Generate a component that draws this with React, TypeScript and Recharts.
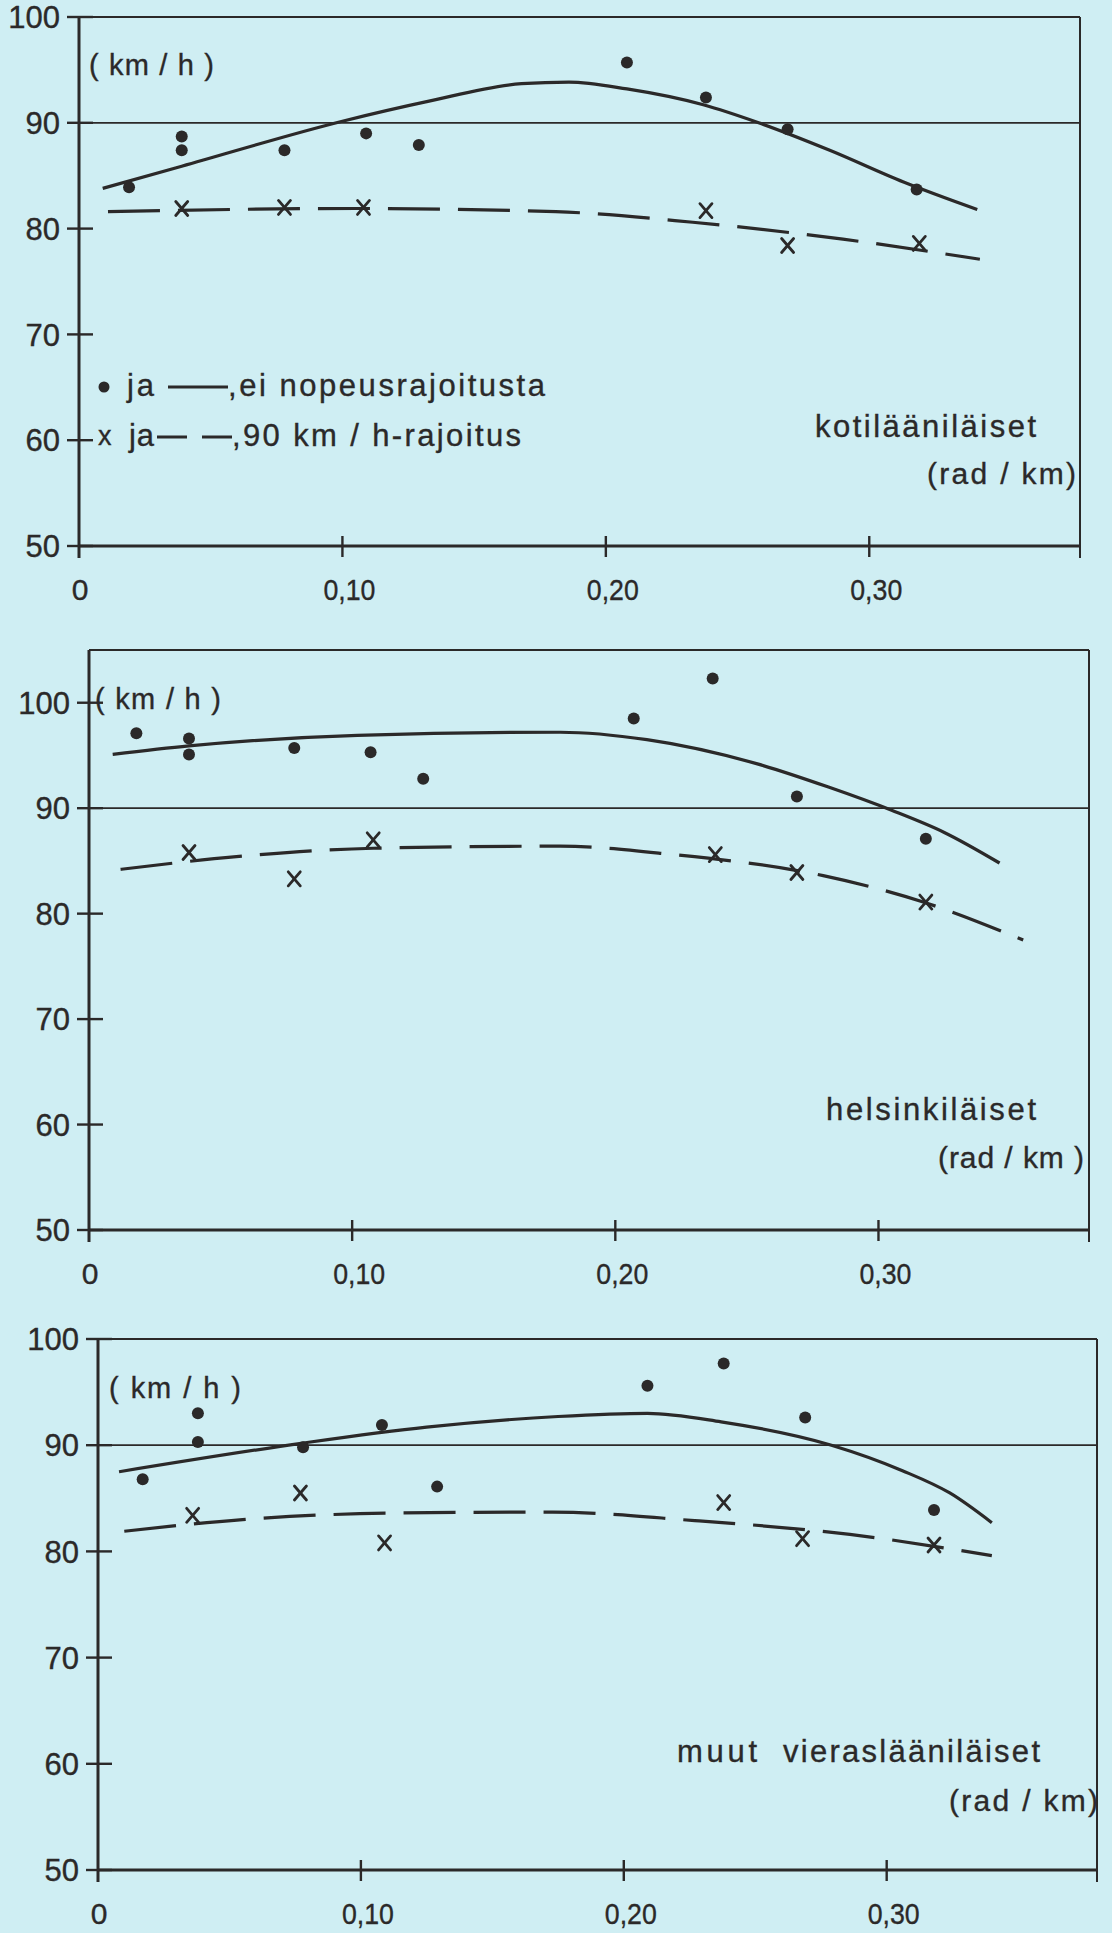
import React from 'react';
import { ComposedChart, Line, Scatter, XAxis, YAxis, ReferenceLine } from 'recharts';

const FONT = '"Liberation Sans", Arial, sans-serif';
const INK = '#2b2929';
const PAPER = '#cfeef3';

// shared axes (curvature rad/km, speed km/h)
const xTicks = [0, 0.1, 0.2, 0.3];
const xTickLabels = ['0', '0,10', '0,20', '0,30'];
const yTicks = [50, 60, 70, 80, 90, 100];
const xMax = 0.38;
const speedLimit = 90;

// kotilääniläiset
const kotiDots = [
  { x: 0.019, y: 83.9 }, { x: 0.039, y: 88.7 }, { x: 0.039, y: 87.4 }, { x: 0.078, y: 87.4 },
  { x: 0.109, y: 89.0 }, { x: 0.129, y: 87.9 }, { x: 0.208, y: 95.7 }, { x: 0.238, y: 92.4 },
  { x: 0.269, y: 89.4 }, { x: 0.318, y: 83.7 },
];
const kotiCrosses = [
  { x: 0.039, y: 81.9 }, { x: 0.078, y: 82.0 }, { x: 0.108, y: 82.0 },
  { x: 0.238, y: 81.7 }, { x: 0.269, y: 78.4 }, { x: 0.319, y: 78.6 },
];
const kotiFree = [
  { x: 0.009, y: 83.8 }, { x: 0.039, y: 85.9 }, { x: 0.1, y: 90.15 }, { x: 0.132, y: 92.0 },
  { x: 0.168, y: 93.7 }, { x: 0.186, y: 93.85 }, { x: 0.208, y: 93.2 }, { x: 0.237, y: 91.7 },
  { x: 0.258, y: 90.0 }, { x: 0.285, y: 87.4 }, { x: 0.313, y: 84.4 }, { x: 0.341, y: 81.8 },
];
const kotiLimited = [
  { x: 0.011, y: 81.6 }, { x: 0.105, y: 81.9 }, { x: 0.181, y: 81.6 },
  { x: 0.233, y: 80.6 }, { x: 0.29, y: 79.0 }, { x: 0.342, y: 77.1 },
];

// helsinkiläiset
const helDots = [
  { x: 0.018, y: 97.1 }, { x: 0.038, y: 96.6 }, { x: 0.038, y: 95.1 }, { x: 0.078, y: 95.7 },
  { x: 0.107, y: 95.3 }, { x: 0.127, y: 92.8 }, { x: 0.207, y: 98.5 }, { x: 0.237, y: 102.3 },
  { x: 0.269, y: 91.1 }, { x: 0.318, y: 87.1 },
];
const helCrosses = [
  { x: 0.038, y: 85.8 }, { x: 0.078, y: 83.3 }, { x: 0.108, y: 87.0 },
  { x: 0.238, y: 85.6 }, { x: 0.269, y: 83.9 }, { x: 0.318, y: 81.1 },
];
const helFree = [
  { x: 0.009, y: 95.1 }, { x: 0.038, y: 95.9 }, { x: 0.102, y: 96.9 }, { x: 0.179, y: 97.2 },
  { x: 0.212, y: 96.5 }, { x: 0.254, y: 94.2 }, { x: 0.281, y: 92.0 }, { x: 0.305, y: 89.8 },
  { x: 0.325, y: 87.7 }, { x: 0.346, y: 84.8 },
];
const helLimited = [
  { x: 0.012, y: 84.2 }, { x: 0.056, y: 85.4 }, { x: 0.108, y: 86.2 }, { x: 0.179, y: 86.4 },
  { x: 0.222, y: 85.6 }, { x: 0.279, y: 83.6 }, { x: 0.317, y: 81.1 }, { x: 0.355, y: 77.5 },
];

// muut vieraslääniläiset
const muutDots = [
  { x: 0.017, y: 86.8 }, { x: 0.038, y: 93.0 }, { x: 0.038, y: 90.3 }, { x: 0.078, y: 89.8 },
  { x: 0.108, y: 91.9 }, { x: 0.129, y: 86.1 }, { x: 0.209, y: 95.6 }, { x: 0.238, y: 97.7 },
  { x: 0.269, y: 92.6 }, { x: 0.318, y: 83.9 },
];
const muutCrosses = [
  { x: 0.036, y: 83.4 }, { x: 0.077, y: 85.5 }, { x: 0.109, y: 80.8 },
  { x: 0.238, y: 84.6 }, { x: 0.268, y: 81.2 }, { x: 0.318, y: 80.6 },
];
const muutFree = [
  { x: 0.008, y: 87.5 }, { x: 0.078, y: 90.2 }, { x: 0.125, y: 91.7 }, { x: 0.175, y: 92.7 },
  { x: 0.209, y: 93.0 }, { x: 0.237, y: 92.2 }, { x: 0.279, y: 90.0 }, { x: 0.306, y: 87.6 },
  { x: 0.324, y: 85.5 }, { x: 0.34, y: 82.7 },
];
const muutLimited = [
  { x: 0.01, y: 81.9 }, { x: 0.055, y: 83.0 }, { x: 0.11, y: 83.6 }, { x: 0.173, y: 83.7 },
  { x: 0.227, y: 82.9 }, { x: 0.286, y: 81.6 }, { x: 0.34, y: 79.6 },
];

type Pt = { x: number; y: number };
type Label = { text: string; x: number; y: number; len: number; size?: number };

// hand-lettered look: regular face with a thin outline
const textStyle = {
  fontFamily: FONT,
  fill: INK,
  stroke: INK,
  strokeWidth: 0.35,
};

const DotShape = (p: any) => <circle cx={p.cx} cy={p.cy} r={6} fill={INK} />;
const CrossShape = (p: any) => (
  <g stroke={INK} strokeWidth={2.8} strokeLinecap="round">
    <line x1={p.cx - 6} y1={p.cy - 7} x2={p.cx + 6} y2={p.cy + 7} />
    <line x1={p.cx + 6} y1={p.cy - 7} x2={p.cx - 6} y2={p.cy + 7} />
  </g>
);

const TextItem = ({ t }: { t: Label }) => (
  <text x={t.x} y={t.y} textLength={t.len} lengthAdjust="spacing" fontSize={t.size ?? 30} style={textStyle}>
    {t.text}
  </text>
);

type PanelProps = {
  top: number;
  height: number;
  plot: { left: number; right: number; top: number; bottom: number };
  yMax: number;
  dots: Pt[];
  crosses: Pt[];
  free: Pt[];
  limited: Pt[];
  labels: Label[];
  extra?: React.ReactNode;
};

const W = 1112;
const YW = 60;
const XH = 40;

function Panel({ top, height, plot, yMax, dots, crosses, free, limited, labels, extra }: PanelProps) {
  const margin = {
    top: plot.top,
    left: plot.left - YW,
    right: W - plot.right,
    bottom: height - plot.bottom - XH,
  };
  const yTick = (p: any) => (
    <g>
      <line x1={plot.left - 12} x2={plot.left + 14} y1={p.y} y2={p.y} stroke={INK} strokeWidth={2.4} />
      <text x={plot.left - 19} y={p.y} dy="0.36em" textAnchor="end" fontSize={31} style={textStyle}>
        {p.payload.value}
      </text>
    </g>
  );
  const xTick = (p: any) => {
    const i = xTicks.indexOf(p.payload.value);
    return (
      <g>
        {i > 0 && (
          <line x1={p.x} x2={p.x} y1={plot.bottom - 10} y2={plot.bottom + 11} stroke={INK} strokeWidth={2.4} />
        )}
        {i > 0 ? (
          <text
            x={p.x - 19}
            y={plot.bottom + 54}
            textLength={52}
            lengthAdjust="spacingAndGlyphs"
            fontSize={30}
            style={textStyle}
          >
            {xTickLabels[i]}
          </text>
        ) : (
          <text x={p.x + 1} y={plot.bottom + 54} textAnchor="middle" fontSize={30} style={textStyle}>
            {xTickLabels[i]}
          </text>
        )}
      </g>
    );
  };
  const below = 50 - (12 * (yMax - 50)) / (plot.bottom - plot.top);
  return (
    <div style={{ position: 'absolute', left: 0, top, width: W, height }}>
      <ComposedChart width={W} height={height} margin={margin}>
        <XAxis
          type="number"
          dataKey="x"
          domain={[0, xMax]}
          ticks={xTicks}
          height={XH}
          allowDataOverflow
          axisLine={{ stroke: INK, strokeWidth: 3 }}
          tickLine={false}
          tick={xTick}
        />
        <YAxis
          type="number"
          dataKey="y"
          domain={[50, yMax]}
          ticks={yTicks}
          width={YW}
          allowDataOverflow
          axisLine={false}
          tickLine={false}
          tick={yTick}
        />
        <ReferenceLine y={speedLimit} stroke={INK} strokeWidth={1.8} />
        <ReferenceLine y={yMax} stroke={INK} strokeWidth={2} />
        <ReferenceLine
          segment={[{ x: 0, y: below }, { x: 0, y: yMax }]}
          ifOverflow="visible"
          stroke={INK}
          strokeWidth={3}
        />
        <ReferenceLine
          segment={[{ x: xMax, y: below }, { x: xMax, y: yMax }]}
          ifOverflow="visible"
          stroke={INK}
          strokeWidth={2}
        />
        <Line
          data={free}
          dataKey="y"
          type="monotone"
          stroke={INK}
          strokeWidth={3.2}
          dot={false}
          activeDot={false}
          isAnimationActive={false}
        />
        <Line
          data={limited}
          dataKey="y"
          type="monotone"
          stroke={INK}
          strokeWidth={3.2}
          strokeDasharray="52 18"
          dot={false}
          activeDot={false}
          isAnimationActive={false}
        />
        <Scatter data={dots} dataKey="y" shape={DotShape} isAnimationActive={false} />
        <Scatter data={crosses} dataKey="y" shape={CrossShape} isAnimationActive={false} />
      </ComposedChart>
      <svg width={W} height={height} style={{ position: 'absolute', left: 0, top: 0, pointerEvents: 'none' }}>
        {labels.map((t, i) => (
          <TextItem key={i} t={t} />
        ))}
        {extra}
      </svg>
    </div>
  );
}

const legend = (
  <g>
    <circle cx={104} cy={387} r={5.5} fill={INK} />
    <text x={127} y={396} textLength={27} lengthAdjust="spacing" fontSize={31} style={textStyle}>
      ja
    </text>
    <line x1={168} x2={228} y1={387} y2={387} stroke={INK} strokeWidth={3} />
    <text x={228} y={396} textLength={317} lengthAdjust="spacing" fontSize={31} style={textStyle}>
      ,ei nopeusrajoitusta
    </text>
    <text x={98} y={445} textLength={14} lengthAdjust="spacing" fontSize={27} style={textStyle}>
      x
    </text>
    <text x={129} y={446} textLength={25} lengthAdjust="spacing" fontSize={31} style={textStyle}>
      ja
    </text>
    <line x1={157} x2={187} y1={437} y2={437} stroke={INK} strokeWidth={3} />
    <line x1={202} x2={232} y1={437} y2={437} stroke={INK} strokeWidth={3} />
    <text x={232} y={446} textLength={289} lengthAdjust="spacing" fontSize={31} style={textStyle}>
      ,90 km / h-rajoitus
    </text>
  </g>
);

export default function App() {
  return (
    <div
      style={{
        position: 'absolute',
        left: 0,
        top: 0,
        width: 1112,
        height: 1933,
        background: PAPER,
        overflow: 'hidden',
      }}
    >
      <Panel
        top={0}
        height={620}
        plot={{ left: 79, right: 1080, top: 17, bottom: 546 }}
        yMax={100}
        dots={kotiDots}
        crosses={kotiCrosses}
        free={kotiFree}
        limited={kotiLimited}
        labels={[
          { text: '( km / h )', x: 89, y: 75, len: 125, size: 29 },
          { text: 'kotilääniläiset', x: 815, y: 437, len: 221, size: 31 },
          { text: '(rad / km)', x: 927, y: 484, len: 149, size: 30 },
        ]}
        extra={legend}
      />
      <Panel
        top={620}
        height={680}
        plot={{ left: 89, right: 1089, top: 30, bottom: 610 }}
        yMax={105}
        dots={helDots}
        crosses={helCrosses}
        free={helFree}
        limited={helLimited}
        labels={[
          { text: '( km / h )', x: 95, y: 89, len: 126, size: 29 },
          { text: 'helsinkiläiset', x: 826, y: 500, len: 210, size: 31 },
          { text: '(rad / km )', x: 938, y: 548, len: 146, size: 30 },
        ]}
      />
      <Panel
        top={1300}
        height={633}
        plot={{ left: 98, right: 1097, top: 39, bottom: 570 }}
        yMax={100}
        dots={muutDots}
        crosses={muutCrosses}
        free={muutFree}
        limited={muutLimited}
        labels={[
          { text: '( km / h )', x: 109, y: 98, len: 132, size: 29 },
          { text: 'muut', x: 677, y: 462, len: 80, size: 31 },
          { text: 'vieraslääniläiset', x: 783, y: 462, len: 257, size: 31 },
          { text: '(rad / km)', x: 949, y: 511, len: 149, size: 30 },
        ]}
      />
    </div>
  );
}
